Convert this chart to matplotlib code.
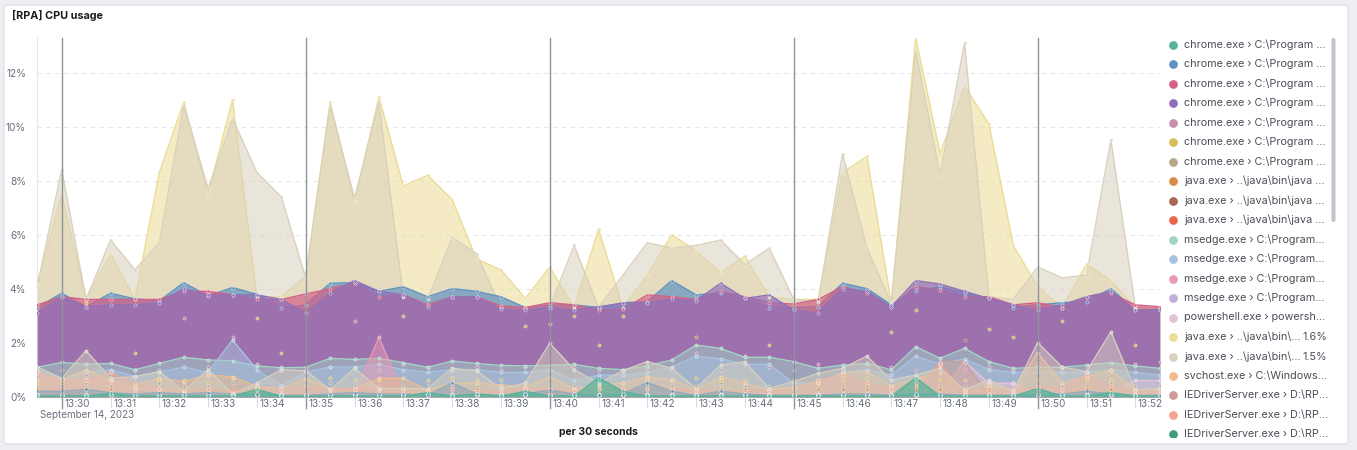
import numpy as np
import matplotlib
matplotlib.use('Agg')
import matplotlib.pyplot as plt
import matplotlib.transforms as mtransforms
from matplotlib.patches import FancyBboxPatch

plt.rcParams['font.family'] = ['Inter', 'DejaVu Sans']

# 30 second buckets, 13:29:30 .. 13:52:30
times = np.arange(np.datetime64('2023-09-14T13:29:30'),
                  np.datetime64('2023-09-14T13:53:00'),
                  np.timedelta64(30, 's'))

chrome_1 = [0.02, 0.02, 0.02, 0.12, 0.02, 0.02, 0.02, 0.02, 0.02, 0.27, 0.02, 0.02, 0.02, 0.02, 0.02, 0.02,
            0.15, 0.02, 0.1, 0.02, 0.2, 0.02, 0.02, 0.7, 0.2, 0.02, 0.02, 0.02, 0.02, 0.02, 0.02, 0.02,
            0.02, 0.02, 0.02, 0.02, 0.7, 0.02, 0.02, 0.02, 0.02, 0.3, 0.02, 0.02, 0.15, 0.02, 0.02]
chrome_2 = [3.3, 3.83, 3.33, 3.83, 3.62, 3.55, 4.22, 3.73, 4.04, 3.79, 3.28, 3.4, 4.2, 4.22, 3.9, 4.07,
            3.7, 4.0, 3.9, 3.7, 3.3, 3.4, 3.4, 3.3, 3.48, 3.52, 4.3, 3.77, 3.83, 3.64, 3.3, 3.3,
            3.33, 4.2, 4.0, 3.4, 3.9, 4.07, 3.83, 3.64, 3.3, 3.4, 3.48, 3.52, 4.0, 3.2, 3.2]
chrome_3 = [3.4, 3.7, 3.6, 3.6, 3.6, 3.6, 3.9, 3.9, 3.77, 3.6, 3.6, 3.8, 4.0, 4.2, 3.7, 3.77,
            3.4, 3.7, 3.7, 3.36, 3.3, 3.48, 3.4, 3.2, 3.23, 3.77, 3.7, 3.6, 3.9, 3.7, 3.48, 3.43,
            3.6, 4.07, 3.83, 3.33, 4.07, 3.95, 3.7, 3.7, 3.4, 3.48, 3.3, 3.7, 3.83, 3.4, 3.33]
chrome_4 = [3.11, 3.7, 3.33, 3.4, 3.4, 3.48, 4.0, 3.77, 3.77, 3.77, 3.6, 3.1, 3.83, 4.3, 3.9, 3.77,
            3.33, 3.7, 3.7, 3.23, 3.2, 3.3, 3.2, 3.33, 3.46, 3.48, 3.6, 3.56, 4.2, 3.64, 3.77, 3.2,
            3.1, 4.0, 3.9, 3.33, 4.3, 4.17, 3.9, 3.64, 3.4, 3.2, 3.4, 3.7, 3.9, 3.2, 3.23]
chrome_5 = [0.9, 1.0, 0.8, 0.9, 1.0, 1.0, 2.9, 1.1, 2.2, 1.2, 1.1, 1.0, 1.1, 2.8, 1.0, 1.2,
            1.1, 1.0, 1.1, 1.0, 1.1, 1.0, 1.1, 1.0, 1.0, 1.1, 1.0, 1.6, 1.0, 1.5, 1.1, 1.0,
            1.2, 1.0, 1.2, 1.1, 1.0, 1.2, 1.0, 1.1, 1.0, 1.2, 1.0, 1.1, 1.0, 1.2, 1.3]
chrome_6 = [0.5, 0.5, 3.48, 0.6, 1.6, 0.6, 0.6, 0.5, 0.7, 2.9, 1.6, 0.6, 0.7, 0.6, 0.6, 3.0,
            0.6, 0.7, 0.6, 0.6, 2.6, 2.7, 3.0, 1.9, 3.0, 0.6, 0.6, 0.7, 0.6, 0.6, 1.9, 0.6,
            0.6, 0.6, 0.7, 2.4, 3.2, 0.6, 0.6, 2.5, 2.2, 0.6, 2.8, 0.6, 0.6, 1.9, 0.6]
chrome_7 = [0.4, 0.4, 0.5, 0.4, 0.4, 0.5, 0.4, 0.4, 0.5, 0.4, 0.4, 0.4, 0.5, 0.4, 0.4, 0.4,
            0.5, 0.4, 0.4, 0.4, 0.5, 0.4, 0.4, 0.4, 0.5, 0.4, 0.4, 0.4, 0.5, 0.4, 0.4, 0.4,
            0.5, 0.4, 0.4, 0.4, 0.5, 0.4, 0.4, 0.4, 0.5, 0.4, 0.4, 0.4, 0.5, 0.4, 0.4]
java_8 = [0.3, 0.3, 0.3, 0.3, 0.3, 0.3, 0.3, 0.3, 0.3, 0.3, 0.3, 0.3, 0.3, 0.3, 0.3, 0.3,
          0.3, 0.3, 0.3, 0.3, 0.3, 0.3, 0.3, 0.3, 0.3, 0.3, 0.3, 2.2, 0.3, 0.3, 0.3, 0.3,
          0.3, 0.3, 0.3, 0.3, 0.3, 0.3, 0.3, 0.3, 0.3, 0.3, 0.3, 0.3, 0.3, 0.3, 0.3]
java_9 = [0.05] * 37 + [1.3, 2.1] + [0.05] * 8
java_10 = [0.02] * 38 + [1.3] + [0.02] * 8
msedge_11 = [1.09, 1.27, 1.2, 1.23, 1.0, 1.23, 1.46, 1.36, 1.33, 1.14, 1.07, 1.09, 1.42, 1.38, 1.42, 1.26,
             1.09, 1.32, 1.23, 1.16, 1.14, 1.16, 1.2, 1.05, 1.0, 1.14, 1.36, 1.91, 1.79, 1.46, 1.46, 1.3,
             1.05, 1.17, 1.23, 1.0, 1.85, 1.42, 1.79, 1.3, 1.05, 1.09, 1.09, 1.17, 1.26, 1.14, 1.05]
msedge_12 = [1.0, 0.65, 0.9, 1.0, 0.75, 0.9, 1.1, 0.9, 2.1, 1.0, 0.4, 0.9, 1.1, 1.1, 1.2, 1.0,
             0.9, 1.0, 1.0, 0.9, 0.9, 1.0, 0.6, 0.8, 0.8, 0.9, 1.1, 1.5, 1.4, 1.2, 1.2, 0.5,
             0.5, 0.9, 1.0, 0.8, 1.5, 1.2, 1.4, 1.0, 0.9, 0.9, 0.9, 0.9, 1.0, 0.9, 0.8]
msedge_13 = [0.1] * 14 + [2.2] + [0.1] * 32
msedge_14 = [0.05] * 39 + [0.5, 0.5] + [0.05] * 6
powershell_15 = [0.9, 0.6, 0.6, 0.6, 0.3, 0.3, 0.2, 0.1, 0.1, 0.1, 0.1, 0.1, 0.1, 0.1, 0.1, 0.1,
                 0.1, 0.1, 0.1, 0.1, 0.1, 0.1, 0.1, 0.1, 0.1, 0.1, 0.1, 0.1, 0.1, 0.1, 0.1, 0.1,
                 0.1, 0.1, 0.1, 0.1, 0.1, 0.1, 1.3, 0.5, 0.5, 0.1, 0.1, 0.1, 0.1, 0.6, 0.6]
java_16 = [4.17, 7.5, 3.6, 5.3, 3.6, 8.3, 10.9, 7.5, 11.0, 3.7, 3.7, 4.47, 10.9, 7.2, 11.1, 7.8,
           8.2, 7.3, 5.1, 4.7, 3.64, 4.8, 3.3, 6.2, 3.3, 4.5, 6.0, 5.4, 4.6, 5.2, 3.7, 3.6,
           3.6, 8.3, 8.9, 3.46, 13.3, 9.0, 11.5, 10.1, 5.6, 4.07, 3.3, 4.9, 4.3, 3.3, 3.3]
java_17 = [4.1, 8.4, 3.6, 5.8, 4.7, 5.7, 10.8, 7.7, 10.3, 8.3, 7.4, 4.4, 10.8, 7.35, 10.9, 3.7,
           3.6, 5.9, 5.3, 3.3, 3.3, 3.3, 5.6, 3.3, 4.5, 5.7, 5.5, 5.6, 5.8, 4.9, 5.5, 3.6,
           3.5, 9.0, 5.5, 3.46, 12.8, 8.2, 13.1, 3.7, 3.6, 4.8, 4.4, 4.5, 9.5, 3.3, 3.3]
svchost_18 = [0.62, 0.64, 1.0, 0.6, 0.43, 0.68, 0.56, 0.8, 0.74, 0.37, 0.3, 0.68, 0.3, 0.3, 0.68, 0.68,
              0.25, 0.5, 0.5, 0.43, 0.37, 0.74, 0.3, 0.43, 0.5, 0.74, 0.62, 0.25, 0.74, 0.5, 0.25, 0.37,
              0.5, 0.86, 0.93, 0.4, 0.68, 0.86, 0.22, 0.43, 0.25, 1.63, 0.5, 0.74, 1.0, 0.25, 0.3]
iedriver_19 = [0.05] * 37 + [1.3, 1.3] + [0.05] * 8
iedriver_20 = [0.9, 0.6, 0.6, 0.9, 0.5, 0.3, 0.2, 0.3, 0.2, 0.3, 0.3, 0.4, 0.3, 0.3, 0.3, 0.2,
               0.2, 0.3, 0.2, 0.2, 0.3, 0.3, 0.2, 0.3, 0.3, 0.3, 0.3, 0.2, 0.2, 0.2, 0.2, 0.3,
               0.6, 0.8, 0.5, 0.3, 0.4, 1.2, 0.2, 0.2, 0.2, 0.4, 0.3, 0.8, 0.4, 0.2, 0.2]
iedriver_21 = [0.05] * 47
# series further down the (scrolled) legend
extra_22 = [0.2, 0.2, 0.27, 0.15, 0.1, 0.15, 0.1, 0.15, 0.1, 0.1, 0.05, 0.05, 0.1, 0.15, 0.1, 0.1,
            0.05, 0.52, 0.1, 0.05, 0.1, 0.25, 0.1, 0.05, 0.1, 0.52, 0.2, 0.05, 0.2, 0.1, 0.05, 0.05,
            0.05, 0.1, 0.1, 0.05, 0.1, 0.1, 0.05, 0.05, 0.05, 0.1, 0.1, 0.2, 0.1, 0.05, 0.05]
extra_23 = [1.1, 0.68, 1.7, 0.68, 0.74, 0.93, 0.2, 1.0, 0.1, 0.5, 1.0, 0.96, 0.25, 1.05, 0.3, 0.3,
            0.3, 1.05, 0.96, 0.3, 0.5, 1.98, 1.0, 0.5, 0.96, 1.3, 1.05, 0.3, 1.17, 1.3, 0.3, 0.56,
            0.86, 1.05, 1.5, 0.62, 0.8, 1.05, 0.25, 0.62, 0.19, 2.0, 1.1, 0.93, 2.4, 0.25, 0.3]

series = [chrome_1, chrome_2, chrome_3, chrome_4, chrome_5, chrome_6, chrome_7,
          java_8, java_9, java_10, msedge_11, msedge_12, msedge_13, msedge_14,
          powershell_15, java_16, java_17, svchost_18, iedriver_19, iedriver_20, iedriver_21,
          extra_22, extra_23]

colors = ['#54B399', '#6092C0', '#D36086', '#9170B8', '#CA8EAE', '#D6BF57', '#B9A888',
          '#DA8B45', '#AA6556', '#E7664C', '#A0D6C5', '#A7C3E2', '#E99BB6', '#C3AEDB',
          '#E5C3D6', '#EBDC95', '#D9D1BE', '#F0BC8F', '#CB9F95', '#F4A391', '#3F9D81',
          '#5686B4', '#D6CFBE']

legend_labels = [r'chrome.exe › C:\Program ...'] * 7 + \
                [r'java.exe › ..\java\bin\java ...'] * 3 + \
                [r'msedge.exe › C:\Program...'] * 4 + \
                [r'powershell.exe › powersh...',
                 r'java.exe › ..\java\bin\...',
                 r'java.exe › ..\java\bin\...',
                 r'svchost.exe › C:\Windows...'] + \
                [r'IEDriverServer.exe › D:\RP...'] * 3
legend_values = [''] * 15 + ['1.6%', '1.5%'] + [''] * 4

W, H = 1357, 450
fig = plt.figure(figsize=(W / 100, H / 100), dpi=100)
fig.patch.set_facecolor('#EDEFF3')

card = FancyBboxPatch((4 / W, 1 - 444 / H), 1344 / W, 439 / H,
                      boxstyle='round,pad=0,rounding_size=0.005',
                      transform=fig.transFigure, facecolor='white',
                      edgecolor='#D8DDE5', linewidth=0.8, zorder=-5)
fig.patches.append(card)

x0, x1, ytop, ybot = 37.3, 1159.7, 38.0, 396.7
ax = fig.add_axes([x0 / W, 1 - ybot / H, (x1 - x0) / W, (ybot - ytop) / H])
ax.set_facecolor('none')
ax.set_xlim(times[0], times[-1])
ax.set_ylim(0, 13.28)

# drawing order tuned to the reference layering
order = [4, 5, 6, 7, 8, 9, 15, 16, 1, 2, 3, 10, 11, 12, 13, 14, 17, 18, 19, 20, 21, 22, 0]
for z, k in enumerate(order):
    vals = np.array(series[k])
    alpha = 0.55 if k in (15, 16) else (0.7 if k < 10 or k == 21 else 0.5)
    ax.fill_between(times, 0, vals, color=colors[k], alpha=alpha, lw=0, zorder=2 + z)
    ax.plot(times, vals, color=colors[k], lw=1.0, zorder=2 + z + 0.5)
for k in order:
    ax.plot(times, series[k], ls='none', marker='o', ms=2.3, mfc=colors[k],
            mec='#FFFFFF', mew=0.3, alpha=0.9, zorder=60)

# grid and axes
ax.set_yticks(np.arange(0, 13, 2))
ax.set_yticklabels(['{:d}%'.format(v) for v in range(0, 13, 2)])
ax.yaxis.grid(True, color='#E4E7EC', lw=0.8, linestyle=(0, (4, 4)))
ax.set_axisbelow(True)
ax.tick_params(axis='y', length=0, pad=8, labelsize=7.3, labelcolor='#69707D')

minutes = np.arange(np.datetime64('2023-09-14T13:30'), np.datetime64('2023-09-14T13:53'),
                    np.timedelta64(1, 'm'))
ax.set_xticks(minutes)
ax.set_xticklabels([str(m)[11:16] for m in minutes], ha='left')
ax.tick_params(axis='x', length=7.5, width=0.8, color='#D3DAE6', pad=-6.2,
               labelsize=7.2, labelcolor='#69707D')
offset = mtransforms.ScaledTranslation(2.5 / 100, 0, fig.dpi_scale_trans)
for lbl in ax.get_xticklabels():
    lbl.set_transform(lbl.get_transform() + offset)

for m in minutes[::5]:
    ax.plot([m, m], [-0.032, 1], transform=ax.get_xaxis_transform(), color='#8E949C',
            lw=1.0, clip_on=False, zorder=70)

for side in ('top', 'right'):
    ax.spines[side].set_visible(False)
ax.spines['left'].set_color('#E4E7EC')
ax.spines['bottom'].set_color('#D3DAE6')

fig.text(12 / W, 1 - 15 / H, '[RPA] CPU usage', fontsize=7.8, fontweight='bold',
         color='#1A1C21', va='center', ha='left')
fig.text(40 / W, 1 - 414.5 / H, 'September 14, 2023', fontsize=7.1, color='#69707D',
         va='center', ha='left')
fig.text((x0 + x1) / 2 / W, 1 - 432 / H, 'per 30 seconds', fontsize=7.5, fontweight='bold',
         color='#1A1C21', va='center', ha='center')

# legend panel, clipped like the scrolled list
lax = fig.add_axes([1160 / W, 1 - 437 / H, 185 / W, 401 / H])
lax.set_xlim(1160, 1345)
lax.set_ylim(437, 36)
lax.axis('off')
for k, (lab, val) in enumerate(zip(legend_labels, legend_values)):
    y = 44.5 + 19.5 * k
    lax.plot([1173], [y], marker='o', ms=6.3, color=colors[k], mec='none', clip_on=True)
    lax.text(1184, y, lab, fontsize=7.8, color='#4A4F58', va='center', ha='left', clip_on=True)
    if val:
        lax.text(1327, y, val, fontsize=7.8, color='#4A4F58', va='center', ha='right', clip_on=True)
bar = FancyBboxPatch((1331.5, 38), 4, 184, boxstyle='round,pad=0,rounding_size=2',
                     facecolor='#BFC3CB', edgecolor='none')
lax.add_patch(bar)

fig.savefig('out.png', dpi=100, facecolor=fig.get_facecolor())
